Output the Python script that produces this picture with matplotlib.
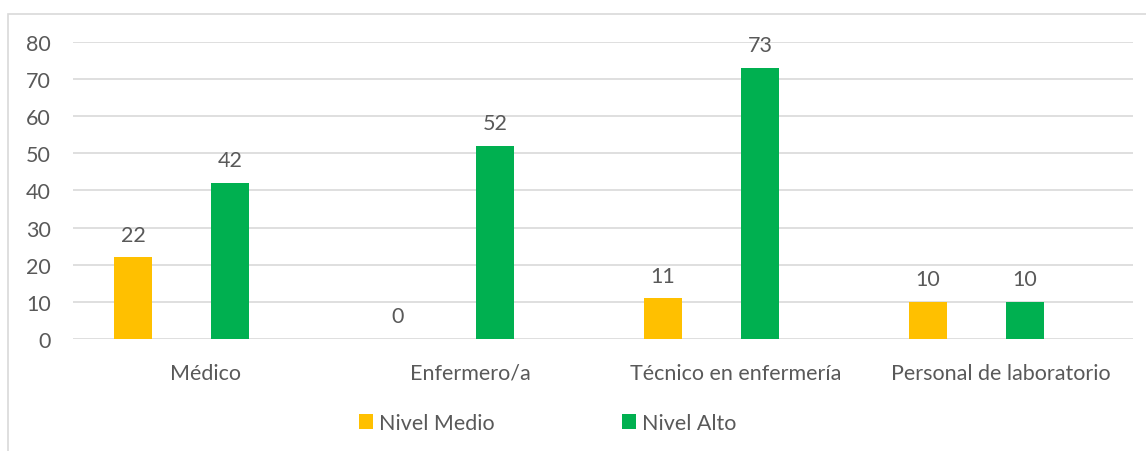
import numpy as np
import matplotlib.pyplot as plt
from matplotlib.patches import Rectangle

plt.rcParams['font.family'] = ['Lato', 'DejaVu Sans']

categories = ['Médico', 'Enfermero/a', 'Técnico en enfermería', 'Personal de laboratorio']
nivel_medio = [22, 0, 11, 10]
nivel_alto = [42, 52, 73, 10]
series_names = ['Nivel Medio', 'Nivel Alto']

YELLOW = '#FFC000'
GREEN = '#00B050'
TEXT = '#595959'
GRID = '#D9D9D9'
FS = 15.5

fig = plt.figure(figsize=(11.46, 4.52), dpi=100)
W, H = 1146, 452

# outer chart frame
fig.patches.append(Rectangle((8 / W, -0.1), 1.2, 1 - 14.7 / H + 0.1, transform=fig.transFigure,
                             fill=False, edgecolor=GRID, linewidth=1.2))

ax = fig.add_axes([73 / W, 1 - 340 / H, (1133 - 73) / W, (340 - 42.7) / H])
x = np.arange(len(categories))
width = 0.143
off_medio, off_alto = -0.274, 0.0925

b1 = ax.bar(x + off_medio, nivel_medio, width, color=YELLOW, label=series_names[0], zorder=3)
b2 = ax.bar(x + off_alto, nivel_alto, width, color=GREEN, label=series_names[1], zorder=3)

for bars, vals in ((b1, nivel_medio), (b2, nivel_alto)):
    for rect, v in zip(bars, vals):
        ax.annotate(str(v), (rect.get_x() + rect.get_width() / 2, v),
                    xytext=(0, 9), textcoords='offset points',
                    ha='center', va='bottom', fontsize=FS, color=TEXT)

ax.set_xlim(-0.5, 3.5)
ax.set_ylim(0, 80)
ax.set_yticks(range(0, 81, 10))
ax.set_xticks(x)
ax.set_xticklabels(categories)
ax.yaxis.grid(True, color=GRID, linewidth=1.2, zorder=0)
ax.set_axisbelow(True)
for s in ax.spines.values():
    s.set_visible(False)
ax.tick_params(axis='both', length=0, labelsize=FS, labelcolor=TEXT)
ax.tick_params(axis='y', pad=16)
ax.tick_params(axis='x', pad=17)

leg = fig.legend(handles=[b1, b2], labels=series_names, loc='center',
                 bbox_to_anchor=(0.478, 1 - 424 / H), ncol=2, frameon=False,
                 fontsize=FS, labelcolor=TEXT, handlelength=0.65, handleheight=0.65,
                 handletextpad=0.3, columnspacing=5.9)

fig.savefig('out.png', dpi=100)
